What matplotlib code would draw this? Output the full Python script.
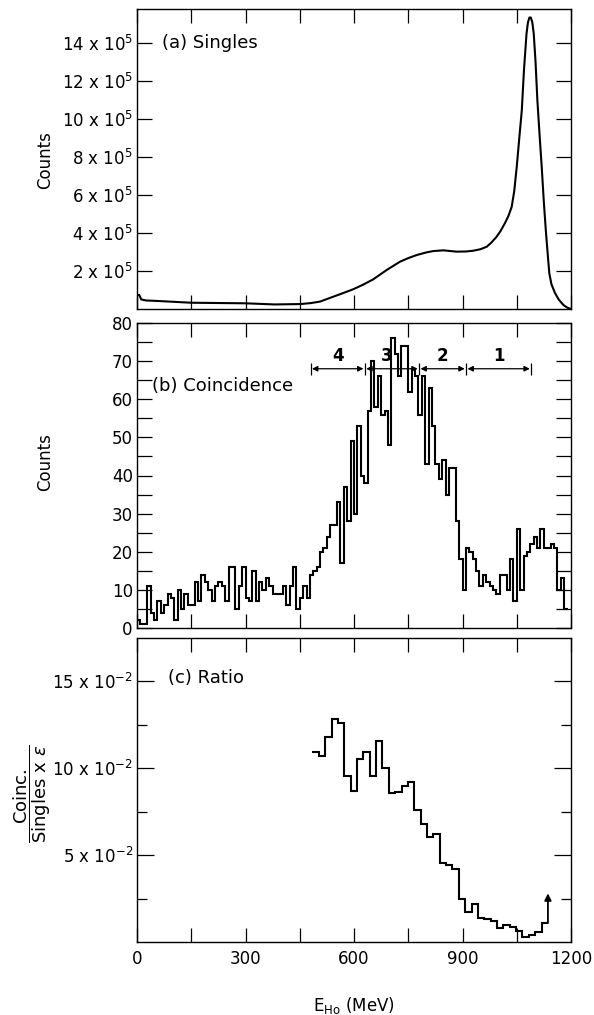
import numpy as np
import matplotlib.pyplot as plt

# (a) singles spectrum: energy in MeV, counts in units of 1e5
singles_e = [0, 6, 12, 25, 60, 150, 300, 380, 451, 480, 506, 543, 570, 598,
             625, 653, 690, 727, 750, 773, 800, 819, 847, 884, 910, 930, 950,
             967, 980, 994, 1005, 1017, 1027, 1036, 1043, 1050, 1057, 1064,
             1070, 1077, 1081, 1085, 1089, 1093, 1097, 1102, 1107, 1113, 1119,
             1125, 1131, 1136, 1140, 1146, 1156, 1166, 1179, 1190, 1200]
singles_counts = [0.74, 0.74, 0.5, 0.45, 0.42, 0.33, 0.30, 0.24, 0.26, 0.31,
                  0.39, 0.65, 0.84, 1.04, 1.28, 1.56, 2.05, 2.49, 2.68, 2.84,
                  2.98, 3.05, 3.09, 3.02, 3.03, 3.07, 3.15, 3.28, 3.5, 3.8,
                  4.1, 4.51, 4.9, 5.38, 6.2, 7.49, 9.0, 10.47, 12.6, 14.5,
                  15.1, 15.35, 15.35, 15.1, 14.5, 13.0, 11.0, 9.2, 7.49, 5.6,
                  3.98, 2.8, 1.88, 1.3, 0.83, 0.5, 0.21, 0.07, 0.0]

# (b) coincidence counts, 128 channels over 0-1200 MeV
coinc_width = 1200 / 128
coinc_counts = [2, 1, 1, 11, 4, 2, 7, 4, 6, 9,
                8, 2, 10, 5, 9, 6, 6, 12, 7, 14,
                12, 10, 7, 11, 12, 11, 7, 16, 16, 5,
                11, 16, 8, 7, 15, 7, 12, 10, 13, 11,
                9, 9, 9, 11, 6, 11, 16, 5, 8, 11,
                8, 14, 15, 16, 20, 21, 24, 27, 27, 33,
                17, 37, 28, 49, 30, 53, 40, 38, 57, 70,
                58, 66, 56, 57, 48,
                76, 72, 66, 74, 74, 62, 68, 66, 56, 66,
                43, 63, 53, 43, 39, 44, 35, 42, 42, 28,
                18, 10, 21, 20, 18, 15, 11, 14, 12, 11,
                10, 9, 14, 14, 10, 18, 7, 26, 10, 19,
                20, 22, 24, 21, 26, 21, 21, 22, 21, 10,
                13, 5]

# energy regions marked over the coincidence peak
region_edges = [480, 630, 780, 910, 1090]
region_labels = ['4', '3', '2', '1']
region_label_x = [555, 690, 845, 1000]
region_y = 68

# (c) ratio, units of 1e-2
ratio_start = 485
ratio_width = 17.6
ratio_vals = [10.92, 10.73, 11.8, 12.83, 12.62, 9.58, 8.7, 10.54, 10.92, 9.58,
              11.57, 10.0, 8.58, 8.62, 8.97, 9.23, 7.59, 6.82, 6.05, 6.2,
              4.52, 4.41, 4.21, 2.49, 1.72, 2.17, 1.38, 1.34, 1.19, 0.8,
              0.99, 0.88, 0.65, 0.31, 0.38, 0.55, 1.09]
ratio_arrow_top = 2.8

fig = plt.figure(figsize=(5.94, 10.15), dpi=100)
L, W = 137 / 594, 434 / 594
ax_a = fig.add_axes([L, 1 - 309 / 1015, W, 300 / 1015])
ax_b = fig.add_axes([L, 1 - 628 / 1015, W, 305 / 1015])
ax_c = fig.add_axes([L, 1 - 942 / 1015, W, 304 / 1015])

for ax in (ax_a, ax_b, ax_c):
    ax.set_xlim(0, 1200)
    ax.set_xticks([0, 300, 600, 900, 1200])
    ax.set_xticks(np.arange(150, 1200, 300), minor=True)
    ax.tick_params(axis='both', which='both', direction='in', top=True,
                   right=True, width=0.9, labelsize=12, pad=3)
    ax.tick_params(axis='x', which='both', length=10)
    for s in ax.spines.values():
        s.set_linewidth(1.0)

# (a)
ax_a.plot(singles_e, singles_counts, color='k', lw=1.5)
ax_a.set_ylim(0, 15.8)
ax_a.set_yticks(range(2, 15, 2))
ax_a.set_yticklabels([f'{v} x 10$^{{5}}$' for v in range(2, 15, 2)])
ax_a.tick_params(axis='y', length=11)
ax_a.tick_params(axis='x', labelbottom=False)
ax_a.text(70, 14, '(a) Singles', fontsize=13, va='center', ha='left')

# (b)
edges_b = np.arange(len(coinc_counts) + 1) * coinc_width
ax_b.stairs(coinc_counts, edges_b, baseline=None, color='k', lw=1.5)
ax_b.set_ylim(0, 80)
ax_b.set_yticks(range(0, 81, 10))
ax_b.set_yticks(range(5, 80, 10), minor=True)
ax_b.tick_params(axis='y', which='both', length=11)
ax_b.tick_params(axis='x', labelbottom=False)
ax_b.text(42, 63.5, '(b) Coincidence', fontsize=13, va='center', ha='left')

for x0, x1 in zip(region_edges[:-1], region_edges[1:]):
    ax_b.annotate('', xy=(x0, region_y), xytext=(x1, region_y),
                  arrowprops=dict(arrowstyle='<|-|>', color='k', lw=0.9,
                                  mutation_scale=8, shrinkA=1, shrinkB=1))
ax_b.vlines(region_edges, region_y - 1.6, region_y + 1.6, color='k', lw=0.9)
for lab, x in zip(region_labels, region_label_x):
    ax_b.text(x, region_y + 1.0, lab, fontsize=12, fontweight='bold',
              ha='center', va='bottom')

# (c)
edges_c = ratio_start + np.arange(len(ratio_vals) + 1) * ratio_width
ax_c.stairs(ratio_vals, edges_c, baseline=None, color='k', lw=1.5)
ax_c.annotate('', xy=(edges_c[-1], ratio_arrow_top),
              xytext=(edges_c[-1], ratio_vals[-1]),
              arrowprops=dict(arrowstyle='-|>', color='k', lw=1.3,
                              mutation_scale=10, shrinkA=0, shrinkB=0))
ax_c.set_ylim(0, 17.5)
ax_c.set_yticks([5, 10, 15])
ax_c.set_yticklabels([f'{v} x 10$^{{-2}}$' for v in (5, 10, 15)])
ax_c.set_yticks([2.5, 7.5, 12.5], minor=True)
ax_c.tick_params(axis='y', which='major', length=12)
ax_c.tick_params(axis='y', which='minor', length=7)
ax_c.tick_params(axis='x', which='major', pad=6)
ax_c.text(85, 15.2, '(c) Ratio', fontsize=13, va='center', ha='left')

fig.text(45 / 594, 1 - 160 / 1015, 'Counts', rotation=90, fontsize=12,
         ha='center', va='center')
fig.text(45 / 594, 1 - 462 / 1015, 'Counts', rotation=90, fontsize=12,
         ha='center', va='center')
fig.text(32 / 594, 1 - 794 / 1015,
         r'$\dfrac{\mathrm{Coinc.}}{\mathrm{Singles\ x}\ \epsilon}$',
         rotation=90, fontsize=13, ha='center', va='center')
fig.text(354 / 594, 1 - 1005 / 1015, r'E$_{\mathrm{Ho}}$ (MeV)', fontsize=12,
         ha='center', va='center')

fig.savefig('out.png', dpi=100)
